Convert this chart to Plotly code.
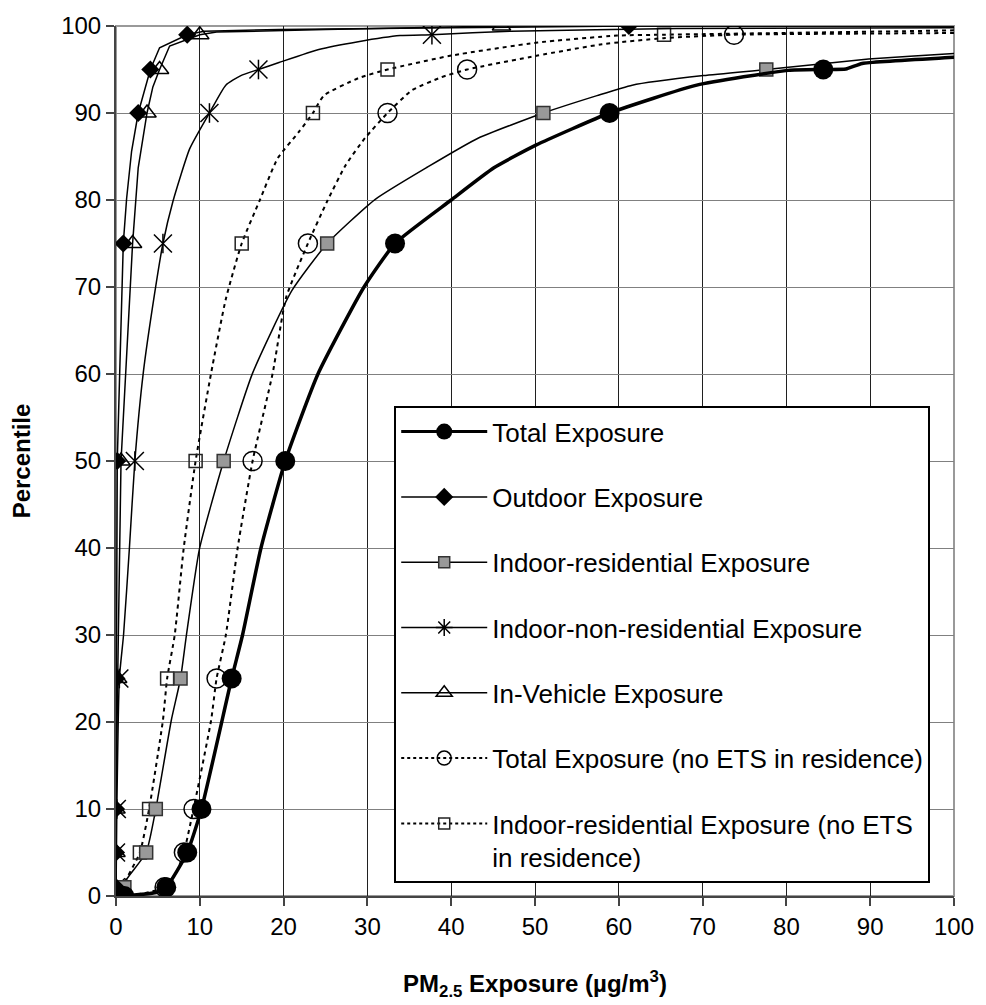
import plotly.graph_objects as go

# ---------------- data (percentile vs PM2.5 exposure, ug/m3) ----------------
series_names = [
    "Total Exposure",
    "Outdoor Exposure",
    "Indoor-residential Exposure",
    "Indoor-non-residential Exposure",
    "In-Vehicle Exposure",
    "Total Exposure (no ETS in residence)",
    "Indoor-residential Exposure (no ETS<br>in residence)",
]

# marker points (selected percentiles)
total_pct = [0, 1, 5, 10, 25, 50, 75, 90, 95]
total_x = [1.0, 6.0, 8.5, 10.2, 13.8, 20.2, 33.3, 58.9, 84.4]

outdoor_pct = [0, 1, 5, 10, 25, 50, 75, 90, 95, 99, 100]
outdoor_x = [0, 0, 0, 0, 0.05, 0.15, 0.87, 2.65, 4.1, 8.5, 61.2]

indres_pct = [0, 1, 5, 10, 25, 50, 75, 90, 95]
indres_x = [0.6, 1.0, 3.6, 4.75, 7.7, 12.85, 25.2, 51.0, 77.6]

nonres_pct = [0, 1, 5, 10, 25, 50, 75, 90, 95, 99]
nonres_x = [0, 0, 0, 0.1, 0.4, 2.25, 5.6, 11.15, 17.0, 37.7]

vehicle_pct = [0, 1, 5, 10, 25, 50, 75, 90, 95, 99, 100]
vehicle_x = [0, 0, 0, 0, 0.2, 0.6, 1.98, 3.7, 5.2, 10.0, 46.0]

totnoets_pct = [0, 1, 5, 10, 25, 50, 75, 90, 95, 99]
totnoets_x = [0.6, 5.8, 8.1, 9.25, 12.0, 16.3, 22.9, 32.4, 41.9, 73.75]

indnoets_pct = [0, 1, 5, 10, 25, 50, 75, 90, 95, 99]
indnoets_x = [0.2, 0.7, 2.85, 3.95, 6.1, 9.5, 15.0, 23.5, 32.4, 65.4]

# curve points
total_line_pct = [0, 0.4, 1, 5, 10, 25, 30, 40, 50, 60, 70, 75, 80, 83.7, 86.3, 90, 93.2, 94.9, 95, 95.05, 95.7, 96.4, 96.5]
total_line_x = [1.0, 4.8, 6.0, 8.5, 10.2, 13.8, 15.1, 17.3, 20.2, 24.1, 29.6, 33.3, 40.0, 45.1, 50.1, 58.9, 69.3, 80.2, 84.4, 87.1, 89.05, 100, 101.4]

outdoor_line_pct = [0, 10, 25, 50, 75, 80.2, 85.6, 90, 95, 97.5, 99, 99.4, 99.6, 99.8, 100, 100]
outdoor_line_x = [0, 0, 0.05, 0.15, 0.87, 1.27, 1.86, 2.65, 4.1, 5.2, 8.5, 10.5, 19.5, 40, 61.2, 101.4]

indres_line_pct = [0, 1, 1.9, 5, 10, 20.2, 25, 29.95, 39.9, 50, 60.1, 69.6, 75, 80.05, 83.8, 87.1, 90, 92.0, 93.2, 94.3, 95, 96.2, 96.85, 96.9]
indres_line_x = [0.6, 1.0, 1.26, 3.6, 4.75, 6.6, 7.7, 8.4, 9.96, 12.85, 16.3, 21.0, 25.2, 30.9, 37.2, 43.2, 51.0, 57.4, 61.6, 70.1, 77.6, 89.8, 100, 101.4]

nonres_line_pct = [0, 10, 25, 30, 40, 50, 60.1, 69.2, 75, 79.85, 85.9, 90, 93.2, 94.3, 95, 95.8, 97.3, 98.2, 98.9, 99, 99.4, 99.7, 99.8]
nonres_line_x = [0, 0.1, 0.4, 0.9, 1.6, 2.25, 3.25, 4.6, 5.6, 6.8, 8.8, 11.15, 13.1, 14.9, 17.0, 19.45, 24.2, 28.9, 33.9, 37.7, 47.1, 66.9, 101.4]

vehicle_line_pct = [0, 10, 25, 50, 75, 83.7, 90, 93, 95, 97.7, 99, 99.3, 99.6, 99.8, 100, 100]
vehicle_line_x = [0, 0, 0.2, 0.6, 1.98, 2.65, 3.7, 4.4, 5.2, 6.4, 10.0, 12, 25, 35, 46.0, 101.4]

totnoets_line_pct = [0, 0.3, 1, 2.7, 5, 10, 20.2, 25, 29.95, 39.9, 50, 60.1, 68.8, 75, 79.85, 84.0, 87.1, 90, 92.6, 94.1, 95, 96.6, 97.9, 98.6, 99, 99.2, 99.25]
totnoets_line_x = [0.6, 3.3, 5.8, 7.2, 8.1, 9.25, 11.35, 12.0, 13.1, 14.5, 16.3, 18.7, 20.3, 22.9, 25.2, 27.4, 29.7, 32.4, 35.3, 38.8, 41.9, 50.3, 58.0, 65.3, 73.75, 100, 101.4]

indnoets_line_pct = [0, 1, 5, 10, 20.2, 25, 29.95, 39.9, 50, 60.1, 68.6, 75, 79.85, 84.8, 87.8, 90, 92.0, 94.0, 95, 96.6, 98.1, 98.9, 99, 99.5, 99.55]
indnoets_line_x = [0.2, 0.7, 2.85, 3.95, 5.6, 6.1, 7.0, 8.07, 9.5, 11.35, 13.1, 15.0, 17.1, 19.3, 21.8, 23.5, 24.8, 28.9, 32.4, 40.0, 50.3, 59.8, 65.4, 100, 101.4]

x_ticks = list(range(0, 101, 10))
y_ticks = list(range(0, 101, 10))

# ---------------- styles ----------------
FONT = "Liberation Sans, Arial, sans-serif"
DOT = "4px,4px"

styles = [
    dict(lw=3.5, dash="solid", shape="spline",
         marker=[dict(symbol="circle", size=20, color="black", line=dict(width=0))],
         legmarker=dict(symbol="circle", size=16, color="black", line=dict(width=0))),
    dict(lw=1.5, dash="solid", shape="linear",
         marker=[dict(symbol="diamond", size=14, color="black", line=dict(width=0))],
         legmarker=dict(symbol="diamond", size=14, color="black", line=dict(width=0))),
    dict(lw=1.5, dash="solid", shape="spline",
         marker=[dict(symbol="square", size=13, color="#999999", line=dict(width=1.5, color="#333333"))],
         legmarker=dict(symbol="square", size=11, color="#999999", line=dict(width=1.5, color="#333333"))),
    dict(lw=1.5, dash="solid", shape="spline",
         marker=[dict(symbol="x-thin-open", size=18, color="black", line=dict(width=1.5, color="black")),
                 dict(symbol="line-ns-open", size=14, color="black", line=dict(width=1.5, color="black"))],
         legmarker=dict(symbol="asterisk-open", size=14, color="black", line=dict(width=1.5, color="black"))),
    dict(lw=1.5, dash="solid", shape="linear",
         marker=[dict(symbol="triangle-up-open", size=16, color="black", line=dict(width=1.5, color="black"))],
         legmarker=dict(symbol="triangle-up-open", size=14, color="black", line=dict(width=1.5, color="black"))),
    dict(lw=2, dash=DOT, shape="spline",
         marker=[dict(symbol="circle-open", size=19, color="black", line=dict(width=1.5, color="black"))],
         legmarker=dict(symbol="circle-open", size=14, color="black", line=dict(width=1.5, color="black"))),
    dict(lw=2, dash=DOT, shape="spline",
         marker=[dict(symbol="square-open", size=13, color="#222222", line=dict(width=1.5, color="#222222"))],
         legmarker=dict(symbol="square-open", size=11, color="#222222", line=dict(width=1.5, color="#222222"))),
]

lines = [
    (total_line_x, total_line_pct),
    (outdoor_line_x, outdoor_line_pct),
    (indres_line_x, indres_line_pct),
    (nonres_line_x, nonres_line_pct),
    (vehicle_line_x, vehicle_line_pct),
    (totnoets_line_x, totnoets_line_pct),
    (indnoets_line_x, indnoets_line_pct),
]
markers = [
    (total_x, total_pct),
    (outdoor_x, outdoor_pct),
    (indres_x, indres_pct),
    (nonres_x, nonres_pct),
    (vehicle_x, vehicle_pct),
    (totnoets_x, totnoets_pct),
    (indnoets_x, indnoets_pct),
]

fig = go.Figure()

# draw in reverse order so "Total Exposure" lies on top
for i in reversed(range(len(series_names))):
    st = styles[i]
    lx, ly = lines[i]
    fig.add_trace(go.Scatter(
        x=lx, y=ly, mode="lines",
        line=dict(color="black", width=st["lw"], dash=st["dash"],
                  shape=st["shape"], smoothing=0.5),
        showlegend=False, hoverinfo="skip", legendgroup=f"g{i}"))
    mx, my = markers[i]
    for mk in st["marker"]:
        fig.add_trace(go.Scatter(
            x=mx, y=my, mode="markers", marker=mk,
            showlegend=False, legendgroup=f"g{i}", name=series_names[i].replace("<br>", " ")))

# legend entries
for i, nm in enumerate(series_names):
    st = styles[i]
    fig.add_trace(go.Scatter(
        x=[None], y=[None], mode="lines+markers", name=nm,
        line=dict(color="black", width=min(st["lw"], 3), dash="dot" if st["dash"] != "solid" else "solid"),
        marker=st["legmarker"], legendgroup=f"g{i}", showlegend=True))

fig.update_layout(
    width=986, height=1005,
    margin=dict(l=116, r=27, t=20, b=108),
    paper_bgcolor="white", plot_bgcolor="white",
    font=dict(family=FONT, size=24, color="black"),
    showlegend=True,
    legend=dict(
        x=0.332, y=0.563, xanchor="left", yanchor="top",
        bgcolor="white", bordercolor="black", borderwidth=2,
        font=dict(family=FONT, size=26, color="black"),
        tracegroupgap=28.5, itemwidth=86, traceorder="grouped", valign="top",
        itemclick=False, itemdoubleclick=False,
    ),
    xaxis=dict(
        range=[0, 100], tickvals=x_ticks, ticktext=[str(v) for v in x_ticks],
        showgrid=True, gridcolor="#202020", gridwidth=1,
        showline=True, linecolor="#444444", linewidth=2,
        ticks="outside", ticklen=8, tickcolor="#444444", tickwidth=1.5,
        zeroline=False,
        title=dict(text="<b>PM<sub>2.5</sub> Exposure (µg/m<sup>3</sup>)</b>",
                   font=dict(family=FONT, size=24), standoff=36),
        tickfont=dict(family=FONT, size=24),
    ),
    yaxis=dict(
        range=[0, 100], tickvals=y_ticks, ticktext=[str(v) for v in y_ticks],
        showgrid=True, gridcolor="#808080", gridwidth=1.3,
        showline=True, linecolor="#444444", linewidth=2,
        ticks="outside", ticklen=8, tickcolor="#444444", tickwidth=1.5,
        zeroline=False,
        title=dict(text="<b>Percentile</b>", font=dict(family=FONT, size=24), standoff=24),
        tickfont=dict(family=FONT, size=24),
    ),
    shapes=[dict(type="rect", xref="paper", yref="paper", x0=0, y0=0, x1=1, y1=1,
                 line=dict(color="#999999", width=2), layer="below")],
)

fig.write_html("out.html")
